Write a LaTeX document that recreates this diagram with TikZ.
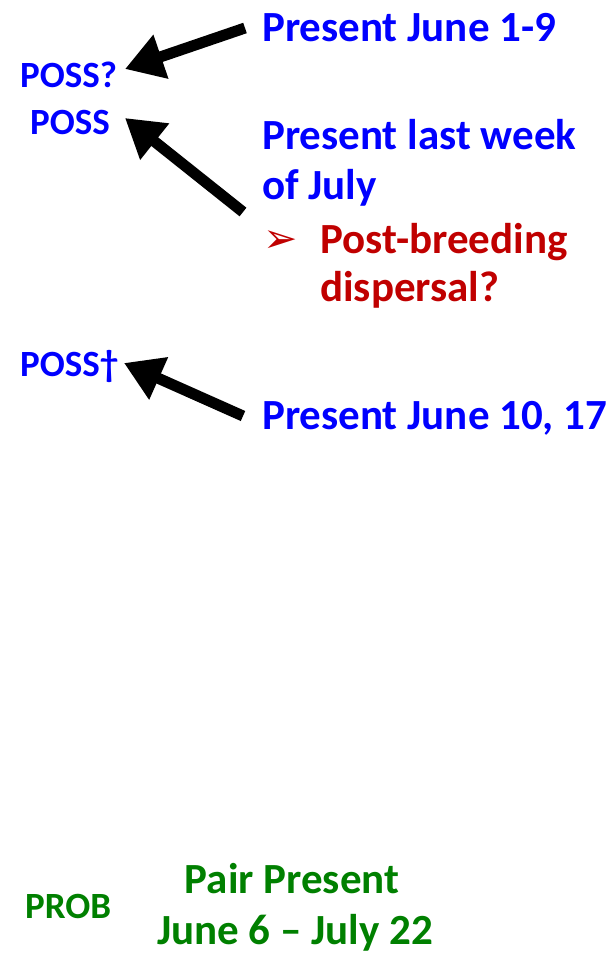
\documentclass[tikz,border=0pt]{standalone}
\usepackage{fontspec}
\setmainfont{Carlito}
\newfontfamily\dejavu{DejaVu Sans}
\usetikzlibrary{arrows.meta}
\definecolor{tblue}{RGB}{0,0,255}
\definecolor{tred}{RGB}{192,0,0}
\definecolor{tgreen}{RGB}{0,128,0}
\tikzset{
  big/.style={anchor=base west, inner sep=0pt, font=\fontsize{43}{50}\selectfont\bfseries},
  small/.style={anchor=base west, inner sep=0pt, font=\fontsize{37}{44}\selectfont\bfseries},
  fat/.style={line width=11pt, -{Triangle[length=38pt,width=44pt]}, black}
}
\begin{document}
\begin{tikzpicture}[x=1pt,y=-1pt]
\useasboundingbox (0,0) rectangle (613,956);
% labels
\node[small, tblue] (p1) at (20,87) {POSS?};
\node[small, tblue] (p2) at (30,134) {POSS};
\node[small, tblue] (p3) at (20,376) {POSS\textdagger};
\node[small, tgreen] (prob) at (25,918) {PROB};
% texts
\node[big, tblue] (t1) at (262,41) {Present June 1-9};
\node[big, tblue] (t2) at (262,149) {Present last week};
\node[big, tblue] (t2b) at (262,199) {of July};
\node[anchor=base west, inner sep=0pt, font=\dejavu\fontsize{41}{44}\selectfont, tred] (bul) at (263,252) {➢};
\node[big, tred] (t3) at (320,253) {Post-breeding};
\node[big, tred] (t3b) at (320,301) {dispersal?};
\node[big, tblue] (t4) at (262,429) {Present June 10, 17};
\node[big, tgreen, anchor=base] (g1) at (292,893) {Pair Present};
\node[big, tgreen, anchor=base] (g2) at (295,944) {June 6 -- July 22};
% arrows
\coordinate (a1s) at (245,28);
\coordinate (a1e) at (125,69);
\coordinate (a2s) at (243,212);
\coordinate (a2e) at (125,118);
\coordinate (a3s) at (243,416);
\coordinate (a3e) at (124,363);
\draw[fat] (a1s) -- (a1e);
\draw[fat] (a2s) -- (a2e);
\draw[fat] (a3s) -- (a3e);
\end{tikzpicture}
\end{document}
